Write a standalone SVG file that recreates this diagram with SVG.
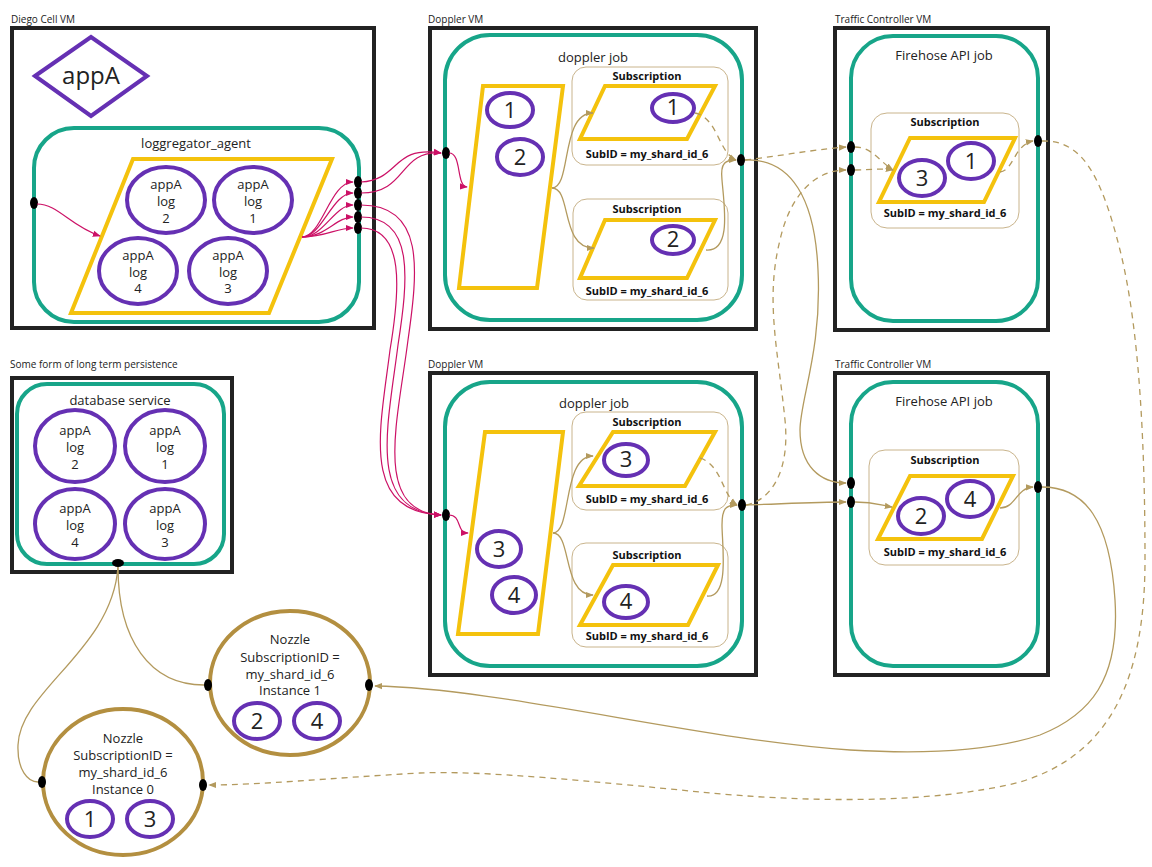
<svg xmlns="http://www.w3.org/2000/svg" width="1152" height="867" viewBox="0 0 1152 867">
  <style>
    .vm { fill: #fff; stroke: #222; stroke-width: 4; }
    .job { fill: #fff; stroke: #17A589; stroke-width: 4; }
    .buf { fill: #fff; stroke: #F4C20D; stroke-width: 4; }
    .log { fill: #fff; stroke: #6530B3; stroke-width: 4; }
    .sub { fill: #fff; stroke: #C9B48C; stroke-width: 1; }
    .noz { fill: #fff; stroke: #B38F40; stroke-width: 4; }
    .dot { fill: #000; }
    .cap { font-family: "Open Sans", "Liberation Sans", sans-serif; font-size: 10px; fill: #222; }
    .t13 { font-family: "Open Sans", "Liberation Sans", sans-serif; font-size: 13px; fill: #222; text-anchor: middle; }
    .num { font-family: "Open Sans", "Liberation Sans", sans-serif; font-size: 22px; fill: #222; text-anchor: middle; }
    .bold { font-family: "Open Sans", "Liberation Sans", sans-serif; font-size: 11px; font-weight: bold; fill: #111; text-anchor: middle; }
    .pink { fill: none; stroke: #CC1166; stroke-width: 1.2; marker-end: url(#ap); }
    .tan { fill: none; stroke: #B39A5E; stroke-width: 1.3; marker-end: url(#at); }
    .tand { fill: none; stroke: #B39A5E; stroke-width: 1.3; stroke-dasharray: 6 5; marker-end: url(#at); }
    .tanp { fill: none; stroke: #B39A5E; stroke-width: 1.3; }
  </style>
  <defs>
    <marker id="ap" viewBox="0 0 10 10" refX="9" refY="5" markerWidth="8" markerHeight="8" orient="auto" markerUnits="userSpaceOnUse">
      <path d="M0,1 L10,5 L0,9 z" fill="#CC1166"/>
    </marker>
    <marker id="at" viewBox="0 0 10 10" refX="9" refY="5" markerWidth="8" markerHeight="8" orient="auto" markerUnits="userSpaceOnUse">
      <path d="M0,1 L10,5 L0,9 z" fill="#B39A5E"/>
    </marker>
  </defs>
  <rect width="1152" height="867" fill="#fff"/>

  <!-- Diego Cell VM -->
  <g id="diego-cell">
    <text class="cap" x="11" y="23">Diego Cell VM</text>
    <rect class="vm" x="12" y="28" width="362" height="300"/>
    <polygon points="35,76 91,37 147,76 91,116" fill="#fff" stroke="#6530B3" stroke-width="4"/>
    <text x="91" y="84" font-family="Open Sans, Liberation Sans, sans-serif" font-size="24" fill="#222" text-anchor="middle">appA</text>
    <rect class="job" x="34" y="128" width="325" height="194" rx="40"/>
    <text class="t13" x="196" y="148">loggregator_agent</text>
    <polygon class="buf" points="133,159 332,159 269,313 71,313"/>
    <ellipse class="log" cx="166" cy="200" rx="39" ry="33"/>
    <text class="t13" x="166" y="189">appA</text><text class="t13" x="166" y="206">log</text><text class="t13" x="166" y="223">2</text>
    <ellipse class="log" cx="253" cy="200" rx="39" ry="33"/>
    <text class="t13" x="253" y="189">appA</text><text class="t13" x="253" y="206">log</text><text class="t13" x="253" y="223">1</text>
    <ellipse class="log" cx="138" cy="271" rx="39" ry="33"/>
    <text class="t13" x="138" y="260">appA</text><text class="t13" x="138" y="277">log</text><text class="t13" x="138" y="293">4</text>
    <ellipse class="log" cx="228" cy="271" rx="39" ry="33"/>
    <text class="t13" x="228" y="260">appA</text><text class="t13" x="228" y="277">log</text><text class="t13" x="228" y="293">3</text>
    <ellipse class="dot" cx="34" cy="203" rx="4" ry="6"/>
    <ellipse class="dot" cx="358" cy="182" rx="4" ry="6"/>
    <ellipse class="dot" cx="358" cy="193" rx="4" ry="6"/>
    <ellipse class="dot" cx="358" cy="205" rx="4" ry="6"/>
    <ellipse class="dot" cx="358" cy="217" rx="4" ry="6"/>
    <ellipse class="dot" cx="358" cy="228" rx="4" ry="6"/>
  </g>

  <!-- Doppler VM (upper) -->
  <g id="doppler-a">
    <text class="cap" x="428" y="23">Doppler VM</text>
    <rect class="vm" x="430" y="28" width="326" height="301"/>
    <rect class="job" x="445" y="35" width="297" height="285" rx="45"/>
    <text class="t13" x="593" y="62">doppler job</text>
    <polygon class="buf" points="483,86 563,86 537,288 459,288"/>
    <ellipse class="log" cx="510" cy="110" rx="23" ry="17"/><text class="num" x="510" y="118">1</text>
    <ellipse class="log" cx="520" cy="157" rx="23" ry="18"/><text class="num" x="520" y="165">2</text>
    <rect class="sub" x="572" y="67" width="156" height="98" rx="14"/>
    <text class="bold" x="647" y="80">Subscription</text>
    <polygon class="buf" points="605,86 715,86 687,139 580,139"/>
    <ellipse class="log" cx="673" cy="108" rx="21" ry="14"/><text class="num" x="673" y="115" font-size="18">1</text>
    <text class="bold" x="647" y="158">SubID = my_shard_id_6</text>
    <rect class="sub" x="573" y="199" width="155" height="101" rx="14"/>
    <text class="bold" x="647" y="213">Subscription</text>
    <polygon class="buf" points="605,220 715,220 687,278 580,278"/>
    <ellipse class="log" cx="673" cy="240" rx="21" ry="14"/><text class="num" x="673" y="247" font-size="18">2</text>
    <text class="bold" x="647" y="295">SubID = my_shard_id_6</text>
    <ellipse class="dot" cx="446" cy="153" rx="4" ry="6"/>
    <ellipse class="dot" cx="741" cy="160" rx="4" ry="6"/>
  </g>

  <!-- Traffic Controller VM (upper) -->
  <g id="traffic-controller-a">
    <text class="cap" x="835" y="23">Traffic Controller VM</text>
    <rect class="vm" x="835" y="28" width="213" height="302"/>
    <rect class="job" x="851" y="36" width="187" height="285" rx="42"/>
    <text class="t13" x="944" y="60">Firehose API job</text>
    <rect class="sub" x="871" y="113" width="148" height="115" rx="16"/>
    <text class="bold" x="945" y="126">Subscription</text>
    <polygon class="buf" points="910,138 1015,138 984,202 879,202"/>
    <ellipse class="log" cx="922" cy="178" rx="23" ry="18"/><text class="num" x="922" y="186">3</text>
    <ellipse class="log" cx="971" cy="161" rx="23" ry="18"/><text class="num" x="971" y="169">1</text>
    <text class="bold" x="945" y="217">SubID = my_shard_id_6</text>
    <ellipse class="dot" cx="851" cy="147" rx="4" ry="6"/>
    <ellipse class="dot" cx="851" cy="170" rx="4" ry="6"/>
    <ellipse class="dot" cx="1038" cy="141" rx="4" ry="6"/>
  </g>

  <!-- Database service -->
  <g id="database">
    <text class="cap" x="10" y="368">Some form of long term persistence</text>
    <rect class="vm" x="12" y="378" width="220" height="194"/>
    <rect class="job" x="17" y="384" width="207" height="180" rx="30"/>
    <text class="t13" x="120" y="405">database service</text>
    <ellipse class="log" cx="75" cy="446" rx="40" ry="36"/>
    <text class="t13" x="75" y="435">appA</text><text class="t13" x="75" y="452">log</text><text class="t13" x="75" y="469">2</text>
    <ellipse class="log" cx="165" cy="446" rx="40" ry="36"/>
    <text class="t13" x="165" y="435">appA</text><text class="t13" x="165" y="452">log</text><text class="t13" x="165" y="469">1</text>
    <ellipse class="log" cx="75" cy="524" rx="40" ry="35"/>
    <text class="t13" x="75" y="513">appA</text><text class="t13" x="75" y="530">log</text><text class="t13" x="75" y="547">4</text>
    <ellipse class="log" cx="165" cy="524" rx="40" ry="35"/>
    <text class="t13" x="165" y="513">appA</text><text class="t13" x="165" y="530">log</text><text class="t13" x="165" y="547">3</text>
    <ellipse class="dot" cx="118" cy="563" rx="6" ry="4"/>
  </g>

  <!-- Doppler VM (lower) -->
  <g id="doppler-b">
    <text class="cap" x="428" y="368">Doppler VM</text>
    <rect class="vm" x="430" y="373" width="326" height="302"/>
    <rect class="job" x="445" y="382" width="297" height="284" rx="45"/>
    <text class="t13" x="594" y="408">doppler job</text>
    <polygon class="buf" points="485,432 563,432 538,634 458,634"/>
    <ellipse class="log" cx="499" cy="549" rx="22" ry="18"/><text class="num" x="499" y="557">3</text>
    <ellipse class="log" cx="514" cy="595" rx="22" ry="18"/><text class="num" x="514" y="603">4</text>
    <rect class="sub" x="572" y="412" width="156" height="98" rx="14"/>
    <text class="bold" x="647" y="426">Subscription</text>
    <polygon class="buf" points="613,432 715,432 685,486 579,486"/>
    <ellipse class="log" cx="626" cy="460" rx="22" ry="16"/><text class="num" x="626" y="467" font-size="18">3</text>
    <text class="bold" x="647" y="503">SubID = my_shard_id_6</text>
    <rect class="sub" x="572" y="543" width="156" height="104" rx="14"/>
    <text class="bold" x="647" y="559">Subscription</text>
    <polygon class="buf" points="613,565 718,565 688,625 580,625"/>
    <ellipse class="log" cx="626" cy="602" rx="22" ry="16"/><text class="num" x="626" y="609" font-size="18">4</text>
    <text class="bold" x="647" y="640">SubID = my_shard_id_6</text>
    <ellipse class="dot" cx="446" cy="515" rx="4" ry="6"/>
    <ellipse class="dot" cx="742" cy="505" rx="4" ry="6"/>
  </g>

  <!-- Traffic Controller VM (lower) -->
  <g id="traffic-controller-b">
    <text class="cap" x="835" y="368">Traffic Controller VM</text>
    <rect class="vm" x="835" y="373" width="213" height="302"/>
    <rect class="job" x="851" y="382" width="187" height="284" rx="42"/>
    <text class="t13" x="944" y="406">Firehose API job</text>
    <rect class="sub" x="869" y="450" width="150" height="115" rx="16"/>
    <text class="bold" x="945" y="464">Subscription</text>
    <polygon class="buf" points="910,476 1013,476 982,539 878,539"/>
    <ellipse class="log" cx="921" cy="516" rx="23" ry="18"/><text class="num" x="921" y="524">2</text>
    <ellipse class="log" cx="970" cy="499" rx="23" ry="18"/><text class="num" x="970" y="507">4</text>
    <text class="bold" x="945" y="556">SubID = my_shard_id_6</text>
    <ellipse class="dot" cx="851" cy="483" rx="4" ry="6"/>
    <ellipse class="dot" cx="851" cy="502" rx="4" ry="6"/>
    <ellipse class="dot" cx="1038" cy="487" rx="4" ry="6"/>
  </g>

  <!-- Nozzle instance 1 -->
  <g id="nozzle-1">
    <ellipse class="noz" cx="290" cy="683" rx="80" ry="72"/>
    <text class="t13" x="290" y="644">Nozzle</text>
    <text class="t13" x="290" y="662">SubscriptionID =</text>
    <text class="t13" x="290" y="679">my_shard_id_6</text>
    <text class="t13" x="290" y="695">Instance 1</text>
    <ellipse class="log" cx="257" cy="721" rx="23" ry="18"/><text class="num" x="257" y="729">2</text>
    <ellipse class="log" cx="317" cy="721" rx="23" ry="18"/><text class="num" x="317" y="729">4</text>
    <ellipse class="dot" cx="208" cy="685" rx="4" ry="6"/>
    <ellipse class="dot" cx="369" cy="685" rx="4" ry="6"/>
  </g>

  <!-- Nozzle instance 0 -->
  <g id="nozzle-0">
    <ellipse class="noz" cx="123" cy="782" rx="80" ry="73"/>
    <text class="t13" x="123" y="743">Nozzle</text>
    <text class="t13" x="123" y="760">SubscriptionID =</text>
    <text class="t13" x="123" y="777">my_shard_id_6</text>
    <text class="t13" x="123" y="794">Instance 0</text>
    <ellipse class="log" cx="90" cy="819" rx="23" ry="18"/><text class="num" x="90" y="827">1</text>
    <ellipse class="log" cx="150" cy="819" rx="23" ry="18"/><text class="num" x="150" y="827">3</text>
    <ellipse class="dot" cx="42" cy="782" rx="4" ry="6"/>
    <ellipse class="dot" cx="203" cy="785" rx="4" ry="6"/>
  </g>

  <!-- Connectors -->
  <g id="connectors">
    <!-- agent: ingress and fan-out -->
    <path class="pink" d="M37,204 C 58,204 70,226 100,236"/>
    <path class="pink" d="M302,237 C 322,237 330,182 353,182"/>
    <path class="pink" d="M302,237 C 322,237 332,193 353,193"/>
    <path class="pink" d="M302,237 C 324,237 334,205 353,205"/>
    <path class="pink" d="M302,237 C 326,237 336,217 353,217"/>
    <path class="pink" d="M302,237 C 326,237 336,228 353,228"/>
    <!-- agent to doppler VMs -->
    <path class="pink" d="M361,182 C 400,180 392,145 441,153"/>
    <path class="pink" d="M361,193 C 408,193 398,150 441,153"/>
    <path class="pink" d="M361,205 C 425,205 418,270 408,340 C 398,420 372,512 441,515"/>
    <path class="pink" d="M361,217 C 415,217 408,280 398,345 C 388,425 366,512 441,515"/>
    <path class="pink" d="M361,228 C 405,228 400,290 390,350 C 380,430 360,512 441,515"/>
    <path class="pink" d="M449,153 C 462,153 456,186 467,187"/>
    <path class="pink" d="M449,515 C 462,515 456,533 468,533"/>

    <!-- upper doppler internals -->
    <path class="tan" d="M552,188 C 572,188 560,113 593,113"/>
    <path class="tan" d="M552,188 C 572,188 560,248 594,248"/>
    <path class="tand" d="M695,113 C 718,118 718,152 736,160"/>
    <path class="tan" d="M706,250 C 732,252 724,205 722,180 C 720,162 726,160 736,160"/>

    <!-- lower doppler internals -->
    <path class="tan" d="M553,533 C 572,533 562,456 593,456"/>
    <path class="tan" d="M553,533 C 572,533 562,595 593,595"/>
    <path class="tand" d="M700,458 C 722,465 722,495 737,505"/>
    <path class="tan" d="M707,596 C 730,598 722,545 722,525 C 722,508 726,505 737,505"/>

    <!-- doppler to traffic controllers -->
    <path class="tand" d="M745,160 C 780,156 810,150 846,147"/>
    <path class="tan" d="M745,160 C 792,158 815,200 818,270 C 822,350 800,400 800,430 C 800,466 820,483 846,483"/>
    <path class="tand" d="M746,505 C 772,500 790,470 785,420 C 778,350 765,300 780,240 C 790,195 815,170 846,170"/>
    <path class="tan" d="M746,505 C 780,504 815,502 846,502"/>

    <!-- upper traffic controller internals -->
    <path class="tand" d="M855,147 C 872,147 880,162 893,170"/>
    <path class="tand" d="M855,170 C 870,170 880,168 893,170"/>
    <path class="tand" d="M1000,172 C 1014,170 1014,145 1033,141"/>

    <!-- lower traffic controller internals -->
    <path class="tan" d="M855,502 C 874,502 880,505 892,507"/>
    <path class="tan" d="M1000,508 C 1016,508 1016,488 1033,487"/>

    <!-- firehose to nozzles -->
    <path class="tan" d="M1042,487 C 1085,487 1110,520 1115,600 C 1120,680 1090,715 1040,735 C 980,755 900,753 850,750 C 700,740 500,688 375,686"/>
    <path class="tand" d="M1042,141 C 1080,140 1100,170 1120,250 C 1140,330 1145,450 1145,560 C 1145,680 1110,755 1020,782 C 930,805 800,802 700,792 C 600,782 480,770 420,773 C 330,778 260,785 209,785"/>

    <!-- nozzles to database -->
    <path class="tanp" d="M118,567 C 118,640 150,685 204,685"/>
    <path class="tanp" d="M118,567 C 112,650 20,690 18,745 C 17,770 28,782 38,782"/>
  </g>
</svg>
